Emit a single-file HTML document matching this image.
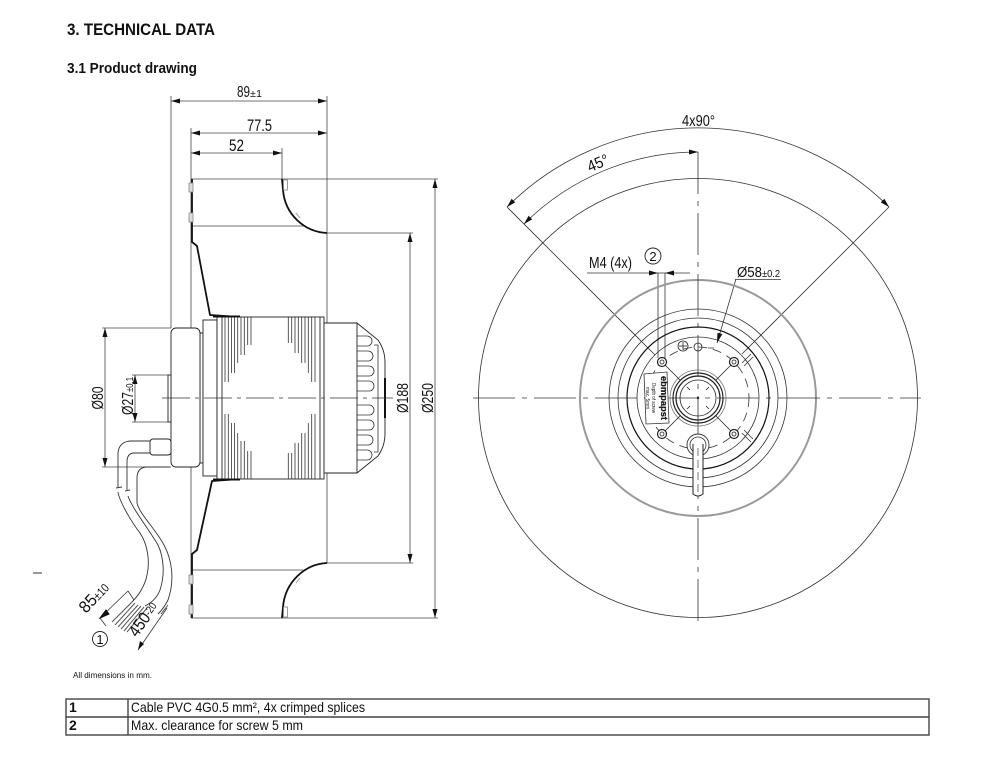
<!DOCTYPE html>
<html><head><meta charset="utf-8">
<style>
html,body{margin:0;padding:0;background:#fff;}
svg{display:block;}
text{font-family:"Liberation Sans",Arial,sans-serif;fill:#111;}
</style></head>
<body>
<svg width="1000" height="757" viewBox="0 0 1000 757" xmlns="http://www.w3.org/2000/svg">
<!-- Headings -->
<text x="67" y="35" font-size="16.5" font-weight="bold" textLength="148" lengthAdjust="spacingAndGlyphs">3. TECHNICAL DATA</text>
<text x="67" y="73" font-size="14.5" font-weight="bold" textLength="130" lengthAdjust="spacingAndGlyphs">3.1 Product drawing</text>
<line x1="33" y1="573" x2="42" y2="573" stroke="#333" stroke-width="1"/>

<!-- ============ LEFT (side) VIEW ============ -->
<g stroke="#444" stroke-width="0.8" fill="none">
  <line x1="171" y1="96" x2="171" y2="328"/>
  <line x1="191" y1="128" x2="191" y2="618"/>
  <line x1="282" y1="148" x2="282" y2="179"/>
  <line x1="327" y1="96" x2="327" y2="563"/>
  <line x1="191" y1="179" x2="438" y2="179"/>
  <line x1="191" y1="618" x2="438" y2="618"/>
  <line x1="327" y1="233" x2="413" y2="233"/>
  <line x1="327" y1="563" x2="413" y2="563"/>
  <line x1="191" y1="226" x2="303" y2="226"/>
  <line x1="191" y1="570" x2="303" y2="570"/>
  <line x1="102" y1="328" x2="171" y2="328"/>
  <line x1="102" y1="467" x2="171" y2="467"/>
  <line x1="132" y1="375" x2="168" y2="375"/>
  <line x1="132" y1="422" x2="168" y2="422"/>
  <line x1="171" y1="101" x2="327" y2="101"/>
  <line x1="191" y1="133" x2="327" y2="133"/>
  <line x1="191" y1="153" x2="282" y2="153"/>
  <line x1="435" y1="179" x2="435" y2="618"/>
  <line x1="410" y1="233" x2="410" y2="563"/>
  <line x1="105" y1="328" x2="105" y2="467"/>
  <line x1="135" y1="375" x2="135" y2="422"/>
</g>
<g fill="#111">
  <polygon points="171,101 180,98.5 180,103.5"/>
  <polygon points="327,101 318,98.5 318,103.5"/>
  <polygon points="191,133 200,130.5 200,135.5"/>
  <polygon points="327,133 318,130.5 318,135.5"/>
  <polygon points="191,153 200,150.5 200,155.5"/>
  <polygon points="282,153 273,150.5 273,155.5"/>
  <polygon points="435,179 432.5,188 437.5,188"/>
  <polygon points="435,618 432.5,609 437.5,609"/>
  <polygon points="410,233 407.5,242 412.5,242"/>
  <polygon points="410,563 407.5,554 412.5,554"/>
  <polygon points="105,328 102.5,337 107.5,337"/>
  <polygon points="105,467 102.5,458 107.5,458"/>
  <polygon points="135,375 132.5,384 137.5,384"/>
  <polygon points="135,422 132.5,413 137.5,413"/>
</g>
<text x="237" y="97" font-size="16" textLength="13" lengthAdjust="spacingAndGlyphs">89</text>
<text x="250" y="97" font-size="10" textLength="12" lengthAdjust="spacingAndGlyphs">±1</text>
<text x="247" y="131" font-size="16.5" textLength="25" lengthAdjust="spacingAndGlyphs">77.5</text>
<text x="229" y="151" font-size="16.5" textLength="15" lengthAdjust="spacingAndGlyphs">52</text>
<text transform="translate(103,398) rotate(-90)" text-anchor="middle" font-size="16" textLength="23" lengthAdjust="spacingAndGlyphs">Ø80</text>
<g transform="translate(133,415) rotate(-90)">
  <text x="0" y="0" font-size="16" textLength="23" lengthAdjust="spacingAndGlyphs">Ø27</text>
  <text x="23" y="0" font-size="10" textLength="15" lengthAdjust="spacingAndGlyphs">±0.1</text>
</g>
<text transform="translate(408,398) rotate(-90)" text-anchor="middle" font-size="16" textLength="30" lengthAdjust="spacingAndGlyphs">Ø188</text>
<text transform="translate(433,398) rotate(-90)" text-anchor="middle" font-size="16" textLength="30" lengthAdjust="spacingAndGlyphs">Ø250</text>

<!-- impeller outline -->
<g stroke="#111" stroke-width="1.8" fill="none" stroke-linejoin="round">
  <path d="M192,179 L192,242 L197,246 L210,315 L240,317"/>
  <path d="M192,618 L192,554 L197,550 L212,481 L240,479"/>
  <path d="M282,179 L283,190 C285,215 305,232 327,233"/>
  <path d="M282,618 L283,607 C285,582 305,564 327,563"/>
</g>
<g stroke="#888" stroke-width="0.8" fill="#ddd">
  <rect x="189" y="183" width="4" height="9"/>
  <rect x="189" y="213" width="4" height="9"/>
  <rect x="189" y="575" width="4" height="9"/>
  <rect x="189" y="605" width="4" height="9"/>
  <rect x="283.5" y="180" width="4" height="10" fill="none"/>
  <rect x="283.5" y="607" width="4" height="10" fill="none"/>
  <line x1="296" y1="213" x2="300" y2="218" fill="none"/>
  <line x1="296" y1="583" x2="300" y2="578" fill="none"/>
</g>

<!-- motor -->
<g stroke="#222" stroke-width="0.9" fill="#fff">
  <rect x="200" y="333" width="3" height="130"/>
  <rect x="171" y="328" width="29" height="139" rx="5"/>
  <rect x="168" y="375" width="3" height="47"/>
  <rect x="203" y="320" width="14" height="156"/>
  <rect x="217" y="317" width="107" height="162"/>
  <path d="M324,323 L357,323 L378,340 Q385,350 385,362 L385,434 Q385,446 378,456 L357,473 L324,473 Z"/>
  <line x1="357" y1="323" x2="357" y2="473"/>
  <line x1="222" y1="317" x2="222" y2="479"/>
  <line x1="320" y1="317" x2="320" y2="479"/>
  <rect x="150" y="439" width="21" height="16" rx="3"/>
</g>
<line x1="385" y1="378" x2="385" y2="418" stroke="#111" stroke-width="2"/>
<line x1="213" y1="316.5" x2="240" y2="316.5" stroke="#111" stroke-width="2"/>
<line x1="213" y1="479.5" x2="240" y2="479.5" stroke="#111" stroke-width="2"/>
<line x1="162" y1="398" x2="393" y2="398" stroke="#333" stroke-width="0.8" stroke-dasharray="28,5,4,5"/>
<g stroke="#333" stroke-width="0.8">
  <line x1="225" y1="317" x2="225" y2="382"/><line x1="228.3" y1="317" x2="228.3" y2="382"/>
  <line x1="231.5" y1="317" x2="231.5" y2="373"/><line x1="234.5" y1="317" x2="234.5" y2="373"/>
  <line x1="237.7" y1="317" x2="237.7" y2="363"/>
  <line x1="241" y1="317" x2="241" y2="355"/><line x1="244.3" y1="317" x2="244.3" y2="355"/>
  <line x1="247.7" y1="317" x2="247.7" y2="345"/><line x1="251" y1="317" x2="251" y2="345"/>
  <line x1="288.3" y1="317" x2="288.3" y2="343"/><line x1="291.7" y1="317" x2="291.7" y2="343"/>
  <line x1="295" y1="317" x2="295" y2="353"/><line x1="298.3" y1="317" x2="298.3" y2="353"/>
  <line x1="301.7" y1="317" x2="301.7" y2="363"/><line x1="305" y1="317" x2="305" y2="363"/>
  <line x1="308.3" y1="317" x2="308.3" y2="373"/>
  <line x1="311.7" y1="317" x2="311.7" y2="382"/><line x1="315" y1="317" x2="315" y2="382"/>
  <line x1="225" y1="479" x2="225" y2="414"/><line x1="228.3" y1="479" x2="228.3" y2="414"/>
  <line x1="231.5" y1="479" x2="231.5" y2="423"/><line x1="234.5" y1="479" x2="234.5" y2="423"/>
  <line x1="237.7" y1="479" x2="237.7" y2="433"/>
  <line x1="241" y1="479" x2="241" y2="441"/><line x1="244.3" y1="479" x2="244.3" y2="441"/>
  <line x1="247.7" y1="479" x2="247.7" y2="451"/><line x1="251" y1="479" x2="251" y2="451"/>
  <line x1="288.3" y1="479" x2="288.3" y2="453"/><line x1="291.7" y1="479" x2="291.7" y2="453"/>
  <line x1="295" y1="479" x2="295" y2="443"/><line x1="298.3" y1="479" x2="298.3" y2="443"/>
  <line x1="301.7" y1="479" x2="301.7" y2="433"/><line x1="305" y1="479" x2="305" y2="433"/>
  <line x1="308.3" y1="479" x2="308.3" y2="423"/>
  <line x1="311.7" y1="479" x2="311.7" y2="414"/><line x1="315" y1="479" x2="315" y2="414"/>
</g>
<g stroke="#333" stroke-width="0.8" fill="none">
  <path d="M357,336 L367,336 A5,5 0 0 1 367,346 L357,346"/>
  <path d="M357,351 L368,351 A5,5 0 0 1 368,361 L357,361"/>
  <path d="M357,366 L369,366 A5,5 0 0 1 369,376 L357,376"/>
  <path d="M357,381 L369,381 A5,5 0 0 1 369,391 L357,391"/>
  <path d="M357,405 L369,405 A5,5 0 0 1 369,415 L357,415"/>
  <path d="M357,420 L369,420 A5,5 0 0 1 369,430 L357,430"/>
  <path d="M357,435 L368,435 A5,5 0 0 1 368,445 L357,445"/>
  <path d="M357,450 L367,450 A5,5 0 0 1 367,460 L357,460"/>
  <path d="M374,345 L378,345 L378,452 L374,452"/>
</g>

<!-- cable -->
<g stroke="#333" stroke-width="0.9" fill="none">
  <path d="M150,441 L130,441 Q119,442 118,453 L118,487"/>
  <path d="M118,492 C119,500 130,520 140,533 C148,545 150,562 147,575 C145,586 138,596 132,602"/>
  <path d="M150,453 L133,453 Q127,454 127,462 L127,490"/>
  <path d="M128,496 C132,508 148,528 158,545 C164,558 165,575 160,590 C157,598 151,603 145,606"/>
  <path d="M170,467 L146,467 Q137,468 137,478 L137,503 C140,515 155,528 164,545 C172,560 175,580 168,600 C165,606 162,610 158,614"/>
  <line x1="116" y1="488" x2="122" y2="487"/>
  <line x1="125" y1="491" x2="130" y2="490"/>
</g>
<g stroke="#555" stroke-width="1">
  <line x1="132" y1="602" x2="112" y2="622"/>
  <line x1="135" y1="603" x2="115" y2="625"/>
  <line x1="138" y1="605" x2="118" y2="627"/>
  <line x1="141" y1="606" x2="121" y2="629"/>
  <line x1="144" y1="607" x2="124" y2="631"/>
  <line x1="147" y1="608" x2="127" y2="632"/>
</g>
<g stroke="#333" stroke-width="0.8" fill="none">
  <line x1="100" y1="618" x2="128" y2="591"/>
  <line x1="128" y1="591" x2="134" y2="600"/>
  <line x1="100" y1="618" x2="106" y2="626"/>
  <line x1="138" y1="650" x2="167" y2="608"/>
  <line x1="161" y1="614" x2="168" y2="605"/>
</g>
<polygon points="100,618 106,610 109,614" fill="#111" stroke="#111" stroke-width="1"/>
<polygon points="138,650 140,641 144,644" fill="#111"/>
<g transform="translate(86,614) rotate(-47)">
  <text x="0" y="0" font-size="17" textLength="18" lengthAdjust="spacingAndGlyphs">85</text>
  <text x="18" y="0" font-size="12" textLength="17" lengthAdjust="spacingAndGlyphs">±10</text>
</g>
<g transform="translate(137,638) rotate(-55)">
  <text x="0" y="0" font-size="17" textLength="25" lengthAdjust="spacingAndGlyphs">450</text>
  <text x="25" y="-2" font-size="11" textLength="13" lengthAdjust="spacingAndGlyphs">-20</text>
</g>
<circle cx="100" cy="639" r="7.5" fill="none" stroke="#222" stroke-width="0.9"/>
<text x="100" y="644" text-anchor="middle" font-size="13">1</text>

<text x="73" y="678" font-size="8.5" textLength="79" lengthAdjust="spacingAndGlyphs">All dimensions in mm.</text>

<!-- ============ RIGHT (front) VIEW ============ -->
<g fill="none" stroke="#333" stroke-width="0.8">
  <circle cx="698" cy="398" r="219.5"/>
  <path d="M507,207 A270,270 0 0 1 889,207"/>
  <path d="M524,224 A246,246 0 0 1 698,152"/>
  <line x1="507" y1="207" x2="655" y2="355"/>
  <line x1="889" y1="207" x2="742" y2="354"/>
  <circle cx="698" cy="398" r="89"/>
  <circle cx="698" cy="398" r="80"/>
  <circle cx="698" cy="398" r="61"/>
  <circle cx="698" cy="398" r="51" stroke-dasharray="9,6"/>
  <line x1="587" y1="273" x2="690" y2="273"/>
  <line x1="658" y1="273" x2="658" y2="358"/>
  <line x1="665" y1="273" x2="665" y2="358"/>
  <line x1="736" y1="279" x2="717" y2="343"/>
  <line x1="735" y1="279.5" x2="781" y2="279.5"/>
  <line x1="742" y1="363" x2="751" y2="354"/>
  <line x1="744" y1="366" x2="753" y2="357"/>
  <line x1="742" y1="433" x2="751" y2="442"/>
  <line x1="744" y1="430" x2="753" y2="439"/>
  <line x1="708" y1="348" x2="714" y2="348"/>
</g>
<circle cx="698" cy="398" r="118" fill="none" stroke="#999" stroke-width="2"/>
<circle cx="698" cy="398" r="71" fill="none" stroke="#111" stroke-width="1.2"/>
<line x1="698" y1="152" x2="698" y2="624" stroke="#333" stroke-width="0.8" stroke-dasharray="42,7,5,7"/>
<line x1="473" y1="398" x2="921" y2="398" stroke="#333" stroke-width="0.8" stroke-dasharray="42,7,5,7"/>
<g fill="none" stroke="#222">
  <circle cx="698" cy="398" r="28" stroke-width="0.8" stroke="#777"/>
  <circle cx="698" cy="398" r="25" stroke-width="1.2"/>
  <circle cx="698" cy="398" r="22" stroke-width="1.2"/>
  <circle cx="698" cy="398" r="18" stroke-width="0.8"/>
  <line x1="662" y1="362" x2="680" y2="380" stroke-width="0.8"/>
  <line x1="734" y1="362" x2="716" y2="380" stroke-width="0.8"/>
  <line x1="662" y1="434" x2="680" y2="416" stroke-width="0.8"/>
  <line x1="734" y1="434" x2="716" y2="416" stroke-width="0.8"/>
  <line x1="687" y1="387" x2="690" y2="390" stroke-width="0.8"/>
  <line x1="709" y1="387" x2="706" y2="390" stroke-width="0.8"/>
  <line x1="687" y1="409" x2="690" y2="406" stroke-width="0.8"/>
  <line x1="709" y1="409" x2="706" y2="406" stroke-width="0.8"/>
</g>
<circle cx="698" cy="398" r="1.2" fill="#222"/>
<g fill="#fff" stroke="#222" stroke-width="1.2">
  <circle cx="662" cy="362" r="4.5"/><circle cx="734" cy="362" r="4.5"/>
  <circle cx="662" cy="434" r="4.5"/><circle cx="734" cy="434" r="4.5"/>
</g>
<g fill="none" stroke="#222" stroke-width="0.8">
  <circle cx="662" cy="362" r="2"/><circle cx="734" cy="362" r="2"/>
  <circle cx="662" cy="434" r="2"/><circle cx="734" cy="434" r="2"/>
  <circle cx="683" cy="346" r="5"/>
  <line x1="679" y1="346" x2="687" y2="346"/><line x1="683" y1="342" x2="683" y2="350"/>
  <circle cx="698" cy="347" r="4"/>
</g>
<path d="M644,374 L667,372 L669,423 L646,424 Z" fill="#fff" stroke="#333" stroke-width="0.8"/>
<text transform="translate(661,398) rotate(90)" text-anchor="middle" font-size="9" font-weight="bold" textLength="44" lengthAdjust="spacingAndGlyphs" stroke="#333" stroke-width="0.3">ebmpapst</text>
<text transform="translate(652,398) rotate(90)" text-anchor="middle" font-size="5" textLength="30" lengthAdjust="spacingAndGlyphs">Depth of screw</text>
<text transform="translate(646,398) rotate(90)" text-anchor="middle" font-size="5" textLength="22" lengthAdjust="spacingAndGlyphs">max. 5mm</text>
<circle cx="698" cy="445" r="11" fill="#fff" stroke="#333" stroke-width="0.9"/>
<circle cx="698" cy="445" r="8" fill="none" stroke="#333" stroke-width="0.8"/>
<path d="M693,444 L693,494 Q698,498 703,494 L703,444" fill="#fff" stroke="#222" stroke-width="1"/>
<line x1="698" y1="448" x2="698" y2="494" stroke="#555" stroke-width="0.8" stroke-dasharray="8,4"/>
<g fill="#111">
  <polygon points="507,207 515.2,202.4 511.6,198.8"/>
  <polygon points="889,207 884.4,198.8 880.8,202.4"/>
  <polygon points="524,224 532.2,219.4 528.6,215.8"/>
  <polygon points="698,152 689,149.5 689,154.5"/>
  <polygon points="658,273 649,270.5 649,275.5"/>
  <polygon points="665,273 674,270.5 674,275.5"/>
  <polygon points="717,343 722.3,334.1 717.5,332.7"/>
</g>
<text x="682" y="126" font-size="16" textLength="33" lengthAdjust="spacingAndGlyphs">4x90°</text>
<text transform="translate(600,168) rotate(-22.5)" text-anchor="middle" font-size="16" textLength="22" lengthAdjust="spacingAndGlyphs">45°</text>
<text x="589" y="268" font-size="16" textLength="43" lengthAdjust="spacingAndGlyphs">M4 (4x)</text>
<circle cx="653" cy="256" r="8" fill="none" stroke="#222" stroke-width="0.9"/>
<text x="653" y="261" text-anchor="middle" font-size="13">2</text>
<text x="737" y="277" font-size="15" textLength="25" lengthAdjust="spacingAndGlyphs">Ø58</text>
<text x="762" y="277" font-size="10" textLength="18" lengthAdjust="spacingAndGlyphs">±0.2</text>

<!-- ============ TABLE ============ -->
<g stroke="#444" stroke-width="1.4" fill="none">
  <rect x="66" y="699" width="863" height="36"/>
  <line x1="66" y1="717" x2="929" y2="717"/>
  <line x1="128" y1="699" x2="128" y2="735"/>
</g>
<text x="69" y="712" font-size="14" font-weight="bold">1</text>
<text x="131" y="712" font-size="14" textLength="234" lengthAdjust="spacingAndGlyphs">Cable PVC 4G0.5 mm², 4x crimped splices</text>
<text x="69" y="730" font-size="14" font-weight="bold">2</text>
<text x="131" y="730" font-size="14" textLength="172" lengthAdjust="spacingAndGlyphs">Max. clearance for screw 5 mm</text>
</svg>
</body></html>
